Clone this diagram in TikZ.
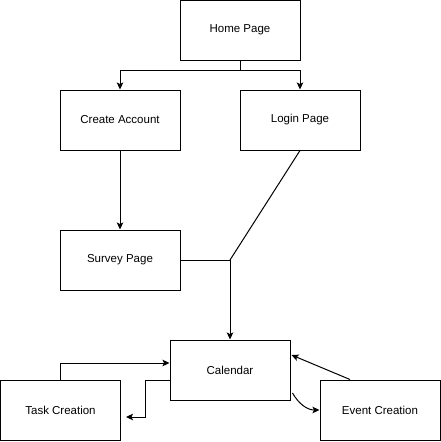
\documentclass[tikz,border=0pt]{standalone}
\usepackage{fontspec}
\setmainfont{Liberation Sans}
\usetikzlibrary{arrows.meta}

\begin{document}
\begin{tikzpicture}[x=1pt,y=1pt,>={Stealth[length=7pt,width=6.5pt,inset=1.5pt]},
  line width=1pt,
  page node/.style={rectangle,draw,minimum width=120pt,minimum height=60pt,
    inner sep=0pt,font=\fontsize{11.5}{14}\selectfont}]
  \useasboundingbox (0,0) rectangle (441,-442);

  \node[page node] (home) at (240,-30) {Home Page};
  \node[page node] (account) at (120,-120) {Create Account};
  \node[page node] (login) at (300,-120) {Login Page};
  \node[page node] (survey) at (120,-260) {Survey Page};
  \node[page node] (calendar) at (230,-370) {Calendar};
  \node[page node] (task) at (60.5,-410) {Task Creation};
  \node[page node] (event) at (380,-410) {Event Creation};

  \coordinate (split) at (240,-70);
  \coordinate (join) at (230,-260);

  \draw (home.south) -- (split);
  \draw[->] (split) -| (account.north);
  \draw[->] (split) -| (login.north);
  \draw[->] (account) -- (survey);
  \draw (survey.east) -- (join);
  \draw (login.south) -- (join);
  \draw[->] (join) -- (calendar.north);
  \draw[->] (task.north) |- ([yshift=7pt]calendar.west);
  \draw[->] ([yshift=-10pt]calendar.west) -- ++(-24,0)
    |- ([xshift=5pt,yshift=-7pt]task.east);
  \draw[->] ([xshift=-30pt]event.north) -- ([xshift=1pt,yshift=15pt]calendar.east);
  \draw[->] ([xshift=2pt,yshift=-23pt]calendar.east) to[out=-60,in=180] (event.west);
\end{tikzpicture}
\end{document}
